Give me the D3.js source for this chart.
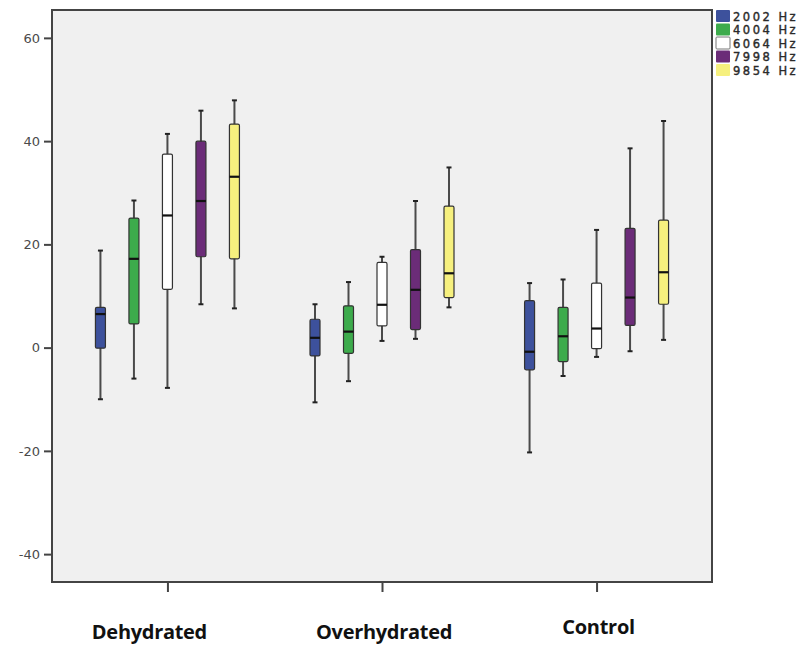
<!DOCTYPE html>
<html>
<head>
<meta charset="utf-8">
<script src="https://cdn.jsdelivr.net/npm/d3@7"></script>
<style>
  body { margin: 0; background: #fff; }
  svg { display: block; }
</style>
</head>
<body>
<div id="chart"></div>
<script>
const groups = ["Dehydrated", "Overhydrated", "Control"];
const series = ["2002 Hz", "4004 Hz", "6064 Hz", "7998 Hz", "9854 Hz"];
const seriesColors = ["#3d519c", "#3dab4c", "#ffffff", "#6b2c78", "#f6f07e"];
const yTicks = [-40, -20, 0, 20, 40, 60];

// [min, q1, median, q3, max] per series, one array per group
const dehydrated = [
  [-10.0, -0.1, 6.5, 7.8, 18.8],
  [-6.0, 4.6, 17.2, 25.1, 28.5],
  [-7.8, 11.3, 25.6, 37.5, 41.4],
  [8.4, 17.6, 28.4, 40.0, 45.9],
  [7.6, 17.2, 33.1, 43.3, 47.9]
];
const overhydrated = [
  [-10.6, -1.6, 1.9, 5.5, 8.4],
  [-6.5, -1.1, 3.1, 8.1, 12.7],
  [1.3, 4.2, 8.3, 16.5, 17.6],
  [1.7, 3.5, 11.2, 19.0, 28.4],
  [7.8, 9.7, 14.4, 27.4, 34.9]
];
const control = [
  [-20.3, -4.3, -0.8, 9.1, 12.5],
  [-5.5, -2.7, 2.2, 7.8, 13.2],
  [-1.8, -0.2, 3.7, 12.5, 22.8],
  [-0.7, 4.3, 9.7, 23.1, 38.6],
  [1.5, 8.4, 14.6, 24.7, 43.9]
];

const stats = [dehydrated, overhydrated, control];

const width = 803, height = 645;
const plot = { left: 52, top: 10, right: 712, bottom: 582 };

const svg = d3.select("#chart").append("svg")
  .attr("width", width)
  .attr("height", height);

const y = d3.scaleLinear()
  .domain([-45.4, 65.4])
  .range([plot.bottom, plot.top]);

const x = d3.scalePoint()
  .domain(groups)
  .range([plot.left, plot.right])
  .padding(0.538);

const xs = d3.scalePoint()
  .domain(series)
  .range([-67, 67]);

// plot background
svg.append("rect")
  .attr("x", plot.left)
  .attr("y", plot.top)
  .attr("width", plot.right - plot.left)
  .attr("height", plot.bottom - plot.top)
  .attr("fill", "#f0f0f0");

// y axis
const yAxis = svg.append("g")
  .attr("transform", `translate(${plot.left},0)`)
  .call(d3.axisLeft(y).tickValues(yTicks).tickSize(8).tickSizeOuter(0).tickPadding(4));
yAxis.select(".domain").remove();
yAxis.selectAll("line").attr("stroke", "#444").attr("stroke-width", 2);
yAxis.selectAll("text")
  .attr("fill", "#4a4a4a")
  .style("font-family", "DejaVu Sans, sans-serif")
  .style("font-size", "13px")
  .text(d => d < 0 ? "-" + Math.abs(d) : d);

// x axis ticks
const xAxis = svg.append("g")
  .attr("transform", `translate(0,${plot.bottom})`)
  .call(d3.axisBottom(x).tickSize(10).tickSizeOuter(0).tickFormat(""));
xAxis.select(".domain").remove();
xAxis.selectAll("line").attr("stroke", "#444").attr("stroke-width", 2);

// category labels
const labelShift = { "Dehydrated": [-18, 0], "Overhydrated": [2, 0], "Control": [2, -5] };
svg.append("g").selectAll("text")
  .data(groups)
  .join("text")
  .attr("x", d => x(d) + labelShift[d][0])
  .attr("y", d => 639 + labelShift[d][1])
  .attr("text-anchor", "middle")
  .style("font-family", "Open Sans, sans-serif")
  .style("font-weight", "bold")
  .style("font-size", "20px")
  .style("letter-spacing", "-0.3px")
  .attr("fill", "#111")
  .text(d => d);

// boxes
const boxW = 10, capW = 5;
const boxData = [];
groups.forEach((g, gi) => {
  series.forEach((s, si) => {
    const [mn, q1, md, q3, mx] = stats[gi][si];
    boxData.push({ g, s, si, mn, q1, md, q3, mx });
  });
});

const box = svg.append("g").selectAll("g")
  .data(boxData)
  .join("g")
  .attr("transform", d => `translate(${x(d.g) + xs(d.s)},0)`);

box.append("line")
  .attr("y1", d => y(d.mx)).attr("y2", d => y(d.mn))
  .attr("stroke", "#4a4a4a").attr("stroke-width", 2);

box.append("line")
  .attr("x1", -capW / 2).attr("x2", capW / 2)
  .attr("y1", d => y(d.mx)).attr("y2", d => y(d.mx))
  .attr("stroke", "#222").attr("stroke-width", 2);

box.append("line")
  .attr("x1", -capW / 2).attr("x2", capW / 2)
  .attr("y1", d => y(d.mn)).attr("y2", d => y(d.mn))
  .attr("stroke", "#222").attr("stroke-width", 2);

box.append("rect")
  .attr("x", -boxW / 2)
  .attr("width", boxW)
  .attr("y", d => y(d.q3))
  .attr("height", d => y(d.q1) - y(d.q3))
  .attr("rx", 1.5)
  .attr("fill", d => seriesColors[d.si])
  .attr("stroke", "#333")
  .attr("stroke-width", 1.2);

box.append("line")
  .attr("x1", -boxW / 2).attr("x2", boxW / 2)
  .attr("y1", d => y(d.md)).attr("y2", d => y(d.md))
  .attr("stroke", "#111").attr("stroke-width", 2.2);

// frame
svg.append("rect")
  .attr("x", plot.left)
  .attr("y", plot.top)
  .attr("width", plot.right - plot.left)
  .attr("height", plot.bottom - plot.top)
  .attr("fill", "none")
  .attr("stroke", "#444")
  .attr("stroke-width", 2);

// legend
const legend = svg.append("g").attr("transform", "translate(716,10)");
const item = legend.selectAll("g")
  .data(series)
  .join("g")
  .attr("transform", (d, i) => `translate(0,${i * 13.5})`);

item.append("rect")
  .attr("width", 14)
  .attr("height", 12)
  .attr("rx", 1)
  .attr("fill", (d, i) => seriesColors[i])
  .attr("stroke", (d, i) => i === 2 ? "#777" : "none");

item.append("text")
  .attr("x", 17)
  .attr("y", 10.5)
  .style("font-family", "DejaVu Sans, sans-serif")
  .style("font-size", "11.5px")
  .style("letter-spacing", "2.5px")
  .attr("fill", "#2a2a2a")
  .attr("stroke", "#2a2a2a")
  .attr("stroke-width", 0.4)
  .text(d => d);
</script>
</body>
</html>
